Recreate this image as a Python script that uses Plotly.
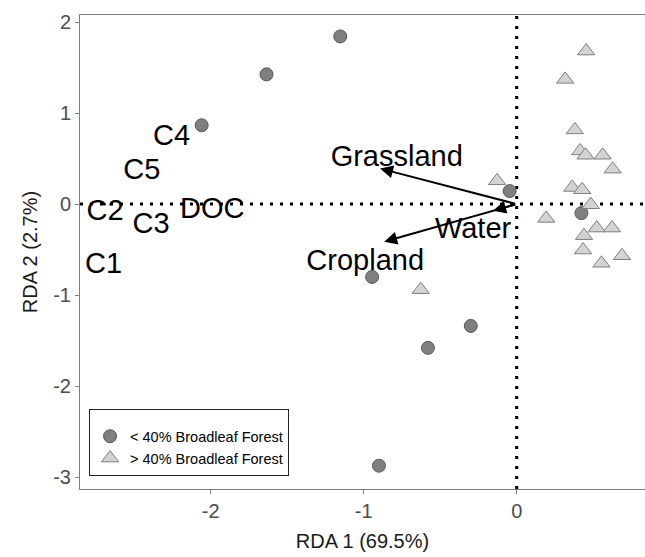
import plotly.graph_objects as go

# ---- data ----
low_x = [-1.153, -1.635, -2.059, -0.046, 0.423, -0.945, -0.300, -0.580, -0.900]
low_y = [1.842, 1.425, 0.866, 0.143, -0.099, -0.800, -1.338, -1.579, -2.873]

high_x = [0.454, 0.317, 0.380, 0.415, 0.450, 0.562, 0.627, 0.363, 0.428, 0.484,
          -0.128, 0.193, 0.523, 0.623, 0.440, 0.434, 0.688, 0.554, -0.627]
high_y = [1.681, 1.370, 0.815, 0.584, 0.537, 0.537, 0.384, 0.183, 0.157, -0.007,
          0.256, -0.157, -0.263, -0.263, -0.347, -0.504, -0.567, -0.650, -0.940]

vec_names = ["Grassland", "Cropland", "Water"]
vec_x = [-0.893, -0.866, -0.154]
vec_y = [0.391, -0.413, -0.073]
vec_lab_x = [-0.784, -0.990, -0.285]
vec_lab_y = [0.500, -0.640, -0.290]

resp_names = ["C4", "C5", "C2", "C3", "DOC", "C1"]
resp_x = [-2.255, -2.450, -2.690, -2.390, -1.990, -2.700]
resp_y = [0.730, 0.360, -0.090, -0.240, -0.075, -0.680]

x_ticks = [-2, -1, 0]
x_tick_text = ["-2", "-1", "0"]
y_ticks = [-3, -2, -1, 0, 1, 2]
y_tick_text = ["-3", "-2", "-1", "0", "1", "2"]

FONT = "Liberation Sans, Arial, Helvetica, sans-serif"

fig = go.Figure()

# reference lines
fig.add_hline(y=0, line=dict(color="black", width=3, dash="3px,7px"), layer="below")
fig.add_vline(x=0, line=dict(color="black", width=3, dash="3px,7px"), layer="below")

fig.add_trace(go.Scatter(
    x=low_x, y=low_y, mode="markers", name="< 40% Broadleaf Forest",
    marker=dict(symbol="circle", size=13, color="#7f7f7f",
                line=dict(color="#595959", width=1))))
fig.add_trace(go.Scatter(
    x=high_x, y=high_y, mode="markers", name="> 40% Broadleaf Forest",
    marker=dict(symbol="triangle-up", size=15, color="#d3d3d3",
                line=dict(color="#7f7f7f", width=1))))

# text labels
fig.add_trace(go.Scatter(
    x=resp_x + vec_lab_x, y=resp_y + vec_lab_y, mode="text",
    text=resp_names + vec_names, textposition="middle center",
    textfont=dict(family=FONT, size=29, color="black"),
    showlegend=False, hoverinfo="skip"))

# arrows
for nx, ny in zip(vec_x, vec_y):
    fig.add_annotation(x=nx, y=ny, ax=0, ay=0, xref="x", yref="y",
                       axref="x", ayref="y", text="", showarrow=True,
                       arrowhead=2, arrowsize=1.3, arrowwidth=2,
                       arrowcolor="black")

axis_common = dict(showgrid=False, zeroline=False, showline=True,
                   linecolor="#7f7f7f", linewidth=1, mirror=True,
                   ticks="outside", ticklen=4, tickcolor="#7f7f7f",
                   tickfont=dict(family=FONT, size=20, color="#4d4d4d"))

fig.update_xaxes(range=[-2.854, 0.8386], tickvals=x_ticks, ticktext=x_tick_text,
                 title=dict(text="RDA 1 (69.5%)", standoff=12,
                            font=dict(family=FONT, size=20, color="#1a1a1a")),
                 **axis_common)
fig.update_yaxes(range=[-3.129, 2.077], tickvals=y_ticks, ticktext=y_tick_text,
                 title=dict(text="RDA 2 (2.7%)", standoff=10,
                            font=dict(family=FONT, size=20, color="#1a1a1a")),
                 **axis_common)

fig.update_layout(
    width=645, height=557,
    margin=dict(l=80, r=0, t=15, b=68),
    paper_bgcolor="white", plot_bgcolor="white",
    font=dict(family=FONT),
    legend=dict(x=0.016, y=0.169, xanchor="left", yanchor="top",
                bgcolor="white", bordercolor="#222222", borderwidth=1,
                font=dict(family=FONT, size=14.5, color="black"),
                title=dict(text=" ", font=dict(size=8)),
                tracegroupgap=0),
)

fig.write_html("out.html")
